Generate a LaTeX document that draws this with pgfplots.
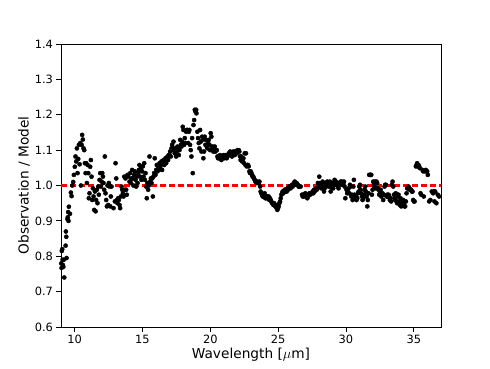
\documentclass[border=0pt]{standalone}
\usepackage{fontspec}
\setmainfont{DejaVu Sans}
\usepackage{pgfplots}
\pgfplotsset{compat=1.18}
\usepackage{pgfplotstable}
\definecolor{mplred}{RGB}{255,0,0}
\pgfplotstableread{
x y
9.02 0.780
9.04 0.767
9.06 0.815
9.09 0.820
9.12 0.790
9.14 0.775
9.17 0.770
9.20 0.790
9.24 0.740
9.34 0.830
9.36 0.870
9.39 0.855
9.41 0.795
9.48 0.905
9.50 0.910
9.53 0.925
9.55 0.900
9.58 0.940
9.66 0.920
9.73 0.980
9.78 0.970
9.83 1.000
9.90 1.010
9.95 1.030
10.02 1.053
10.07 1.082
10.12 1.068
10.17 1.105
10.22 1.035
10.27 1.075
10.32 1.115
10.37 1.060
10.42 1.120
10.47 1.000
10.52 1.115
10.56 1.143
10.61 1.130
10.66 1.105
10.71 1.100
10.76 1.063
10.81 1.035
10.86 1.063
10.91 1.007
10.96 1.058
11.01 1.035
11.05 0.964
11.10 0.978
11.15 1.053
11.20 1.072
11.25 1.025
11.30 0.959
11.35 0.992
11.40 0.969
11.45 0.931
11.50 0.983
11.55 0.927
11.59 0.959
11.64 0.988
11.69 0.950
11.74 0.997
11.79 0.974
11.84 1.016
11.89 1.035
11.94 0.997
11.99 1.011
12.04 1.035
12.09 1.025
12.13 1.007
12.18 0.988
12.23 1.082
12.28 0.978
12.33 0.959
12.38 0.941
12.43 1.000
12.48 0.945
12.53 1.007
12.58 0.997
12.63 0.941
12.67 0.969
12.72 0.997
12.87 0.936
12.97 0.955
13.02 1.063
13.07 1.020
13.12 0.959
13.16 0.950
13.21 0.964
13.26 0.959
13.31 0.945
13.36 0.936
13.41 0.969
13.46 0.997
13.51 0.988
13.56 0.978
13.61 0.969
13.66 1.025
13.71 0.988
13.75 1.020
13.80 0.988
13.85 0.974
13.90 1.030
13.95 1.025
14.05 1.011
14.10 1.035
14.15 1.007
14.20 1.020
14.24 1.044
14.29 1.020
14.34 1.000
14.39 1.030
14.44 1.040
14.49 1.016
14.54 0.997
14.59 1.025
14.64 1.007
14.69 1.035
14.74 1.044
14.78 1.058
14.83 1.025
14.88 1.049
14.93 1.016
14.98 1.040
15.03 1.054
15.08 1.025
15.13 1.063
15.18 1.016
15.23 1.035
15.27 0.997
15.32 0.964
15.37 1.007
15.42 0.988
15.47 1.000
15.52 1.082
15.57 1.011
15.62 1.020
15.67 1.007
15.72 1.020
15.77 0.969
15.81 1.025
15.86 1.035
15.91 1.077
15.96 1.030
16.01 1.044
16.06 1.058
16.11 1.040
16.16 1.054
16.21 1.044
16.26 1.063
16.31 1.049
16.35 1.058
16.40 1.068
16.45 1.044
16.50 1.063
16.55 1.072
16.60 1.058
16.65 1.068
16.70 1.077
16.75 1.063
16.80 1.077
16.85 1.082
16.89 1.072
16.94 1.086
16.99 1.086
17.04 1.096
17.09 1.082
17.14 1.105
17.19 1.115
17.24 1.100
17.29 1.124
17.34 1.105
17.38 1.091
17.43 1.096
17.48 1.082
17.53 1.091
17.58 1.110
17.63 1.105
17.68 1.086
17.73 1.100
17.78 1.129
17.83 1.115
17.88 1.110
17.92 1.124
17.97 1.166
18.02 1.157
18.07 1.115
18.12 1.134
18.17 1.120
18.22 1.152
18.27 1.157
18.32 1.157
18.37 1.120
18.42 1.152
18.46 1.157
18.51 1.115
18.56 1.100
18.61 1.082
18.66 1.134
18.71 1.035
18.76 1.171
18.81 1.185
18.86 1.214
18.91 1.209
18.96 1.214
18.98 1.204
19.05 1.152
19.10 1.134
19.15 1.120
19.20 1.105
19.25 1.157
19.30 1.124
19.35 1.096
19.40 1.138
19.45 1.129
19.49 1.077
19.54 1.096
19.59 1.138
19.64 1.115
19.69 1.129
19.74 1.110
19.79 1.105
19.84 1.120
19.89 1.129
19.94 1.115
19.99 1.100
20.03 1.148
20.08 1.138
20.13 1.105
20.18 1.110
20.23 1.096
20.28 1.105
20.33 1.110
20.38 1.096
20.43 1.100
20.48 1.100
20.53 1.082
20.57 1.077
20.62 1.082
20.67 1.077
20.72 1.086
20.77 1.082
20.82 1.072
20.87 1.077
20.92 1.082
20.97 1.086
21.02 1.077
21.07 1.082
21.11 1.086
21.16 1.082
21.21 1.077
21.26 1.082
21.31 1.086
21.36 1.091
21.41 1.086
21.46 1.096
21.51 1.086
21.56 1.091
21.60 1.082
21.65 1.086
21.70 1.096
21.75 1.091
21.80 1.086
21.85 1.096
21.90 1.096
21.95 1.091
22.00 1.100
22.05 1.096
22.10 1.100
22.14 1.096
22.19 1.082
22.24 1.072
22.29 1.082
22.34 1.068
22.39 1.072
22.44 1.077
22.49 1.063
22.54 1.091
22.59 1.058
22.63 1.091
22.68 1.054
22.73 1.058
22.78 1.058
22.83 1.054
22.88 1.040
22.93 1.035
22.98 1.040
23.03 1.035
23.08 1.030
23.12 1.025
23.17 1.025
23.22 1.020
23.27 1.016
23.32 1.011
23.37 1.011
23.42 1.007
23.47 1.011
23.52 1.007
23.57 1.007
23.62 1.011
23.67 0.997
23.71 0.983
23.76 0.978
23.81 0.974
23.86 0.969
23.91 0.974
23.96 0.969
24.01 0.978
24.06 0.964
24.11 0.969
24.16 0.964
24.21 0.969
24.25 0.964
24.30 0.969
24.35 0.959
24.40 0.964
24.45 0.959
24.50 0.955
24.55 0.950
24.60 0.950
24.65 0.945
24.70 0.950
24.74 0.945
24.79 0.941
24.84 0.945
24.89 0.936
24.94 0.931
24.99 0.936
25.04 0.941
25.09 0.950
25.14 0.955
25.19 0.964
25.24 0.974
25.29 0.978
25.33 0.983
25.38 0.978
25.43 0.983
25.48 0.988
25.53 0.983
25.58 0.988
25.63 0.983
25.68 0.992
25.73 0.988
25.78 0.992
25.82 0.997
25.87 0.997
25.92 0.992
26.02 1.002
26.07 0.997
26.12 1.002
26.17 1.007
26.22 1.011
26.27 1.007
26.32 1.002
26.36 1.007
26.41 1.002
26.46 1.002
26.51 0.997
26.56 0.997
26.66 0.997
26.76 0.974
26.81 0.969
26.85 0.974
26.90 0.969
26.95 0.974
27.00 0.978
27.05 0.974
27.10 0.969
27.15 0.964
27.20 0.969
27.25 0.974
27.30 0.978
27.35 0.974
27.40 0.978
27.44 0.978
27.49 0.978
27.54 0.983
27.59 0.978
27.64 0.988
27.69 0.983
27.74 0.988
27.79 0.992
27.84 0.988
27.89 0.992
27.93 1.007
27.98 0.997
28.03 1.025
28.08 1.007
28.13 0.997
28.18 0.992
28.23 1.002
28.28 1.011
28.33 1.007
28.38 0.983
28.42 0.992
28.47 0.997
28.52 1.007
28.57 1.002
28.62 1.011
28.67 1.007
28.72 0.997
28.77 1.007
28.82 1.011
28.87 0.983
28.92 0.997
28.96 0.992
29.01 1.007
29.06 0.992
29.11 1.002
29.16 1.016
29.21 1.007
29.26 1.011
29.31 1.002
29.36 1.007
29.41 0.997
29.45 0.992
29.50 1.007
29.55 1.002
29.60 1.011
29.65 1.007
29.70 1.011
29.75 1.002
29.80 1.007
29.85 1.011
29.90 0.997
29.95 0.964
30.04 0.988
30.09 0.978
30.14 0.983
30.19 0.992
30.24 0.978
30.29 1.002
30.34 0.997
30.39 0.969
30.44 0.974
30.49 0.959
30.54 0.997
30.58 1.016
30.63 0.974
30.68 0.964
30.73 0.969
30.78 0.959
30.83 0.964
30.88 0.978
30.93 0.983
30.98 0.997
31.03 1.002
31.07 0.988
31.12 0.978
31.17 0.969
31.22 0.959
31.27 0.964
31.32 0.974
31.37 0.988
31.42 0.997
31.47 0.983
31.52 0.969
31.57 0.941
31.61 0.959
31.66 0.978
31.71 1.030
31.76 1.030
31.81 1.030
31.86 1.030
31.91 0.974
31.96 0.988
32.01 1.011
32.06 1.007
32.10 0.997
32.15 1.011
32.20 0.992
32.25 1.011
32.30 1.007
32.35 0.992
32.40 0.988
32.45 0.974
32.50 0.978
32.55 0.988
32.60 0.969
32.64 0.974
32.69 0.978
32.74 0.959
32.79 0.974
32.84 0.997
32.89 1.002
32.94 1.002
32.99 0.969
33.04 0.974
33.09 0.969
33.14 0.974
33.18 0.969
33.23 0.959
33.28 0.964
33.33 0.955
33.38 1.002
33.43 1.011
33.48 0.997
33.53 0.974
33.58 0.964
33.63 0.959
33.67 0.978
33.72 0.955
33.77 0.950
33.82 0.969
33.87 0.974
33.92 0.955
33.97 0.945
34.02 0.964
34.07 0.941
34.12 0.950
34.17 0.955
34.22 0.959
34.26 0.950
34.31 0.941
34.36 0.941
34.41 0.955
34.46 0.978
34.51 0.992
34.56 0.992
34.61 0.997
34.66 0.992
34.71 0.988
34.75 0.988
34.80 0.988
34.85 0.983
34.90 0.983
34.95 0.959
35.00 0.955
35.05 0.955
35.15 1.054
35.20 1.058
35.24 1.063
35.29 1.054
35.34 1.058
35.39 1.054
35.44 1.049
35.49 0.978
35.54 0.974
35.64 1.044
35.69 1.040
35.73 0.969
35.83 1.040
35.88 1.044
35.98 1.040
36.03 1.030
36.13 0.955
36.22 0.959
36.32 0.983
36.42 0.978
36.47 0.983
36.52 0.955
36.57 0.983
36.66 0.950
36.76 0.974
36.86 0.969
}\obsdata
\begin{document}
\begin{tikzpicture}
\begin{axis}[
  scale only axis,
  width=380pt, height=283pt,
  font=\fontsize{11.4}{13}\selectfont,
  xmin=9, xmax=37, ymin=0.6, ymax=1.4,
  xtick={10,15,20,25,30,35},
  ytick={0.6,0.7,0.8,0.9,1.0,1.1,1.2,1.3,1.4},
  yticklabel style={/pgf/number format/.cd, fixed, fixed zerofill, precision=1},
  /pgf/number format/assume math mode=true,
  tick align=outside,
  xtick pos=bottom, ytick pos=left,
  major tick length=4.5pt,
  every tick/.style={black, line width=0.8pt},
  axis line style={line width=0.8pt},
  xlabel={Wavelength [$\mu$m]},
  ylabel={Observation / Model},
  label style={font=\fontsize{13.7}{16}\selectfont},
  xlabel style={yshift=2pt},
  ylabel style={yshift=-2pt},
]
\addplot[black, only marks, mark=*, mark size=2.1pt] table {\obsdata};
\addplot[mplred, line width=2.2pt, dash pattern=on 6pt off 3pt] coordinates {(9,1) (37,1)};
\end{axis}
\path[use as bounding box] (-61pt,-41pt) rectangle (429pt,327pt);
\end{tikzpicture}
\end{document}
